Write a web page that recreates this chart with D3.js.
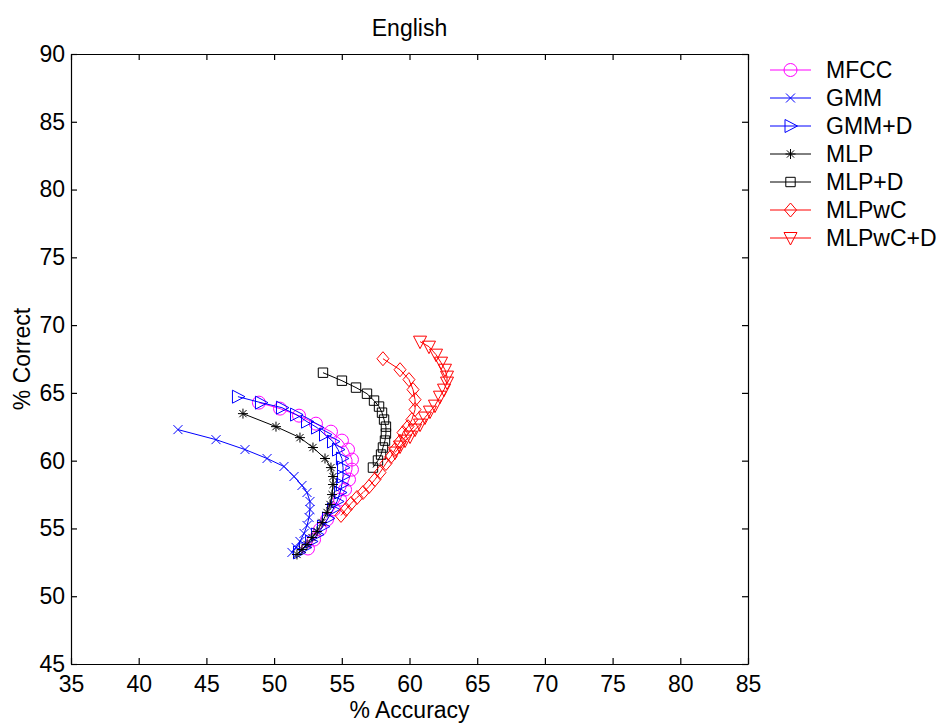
<!DOCTYPE html>
<html>
<head>
<meta charset="utf-8">
<script src="https://cdn.jsdelivr.net/npm/d3@7"></script>
<style>
  body { margin: 0; background: #fff; }
  svg { font-family: "Liberation Sans", Arial, sans-serif; }
</style>
</head>
<body>
<svg id="chart"></svg>
<script>
// Series: [accuracy %, correct %]
const mfcc = [[48.88,64.28],[50.44,63.84],[51.84,63.32],[53.09,62.73],[54.20,62.14],[55.01,61.48],[55.46,60.82],[55.75,60.08],[55.75,59.34],[55.53,58.61],[55.24,57.87],[54.87,57.13],[54.42,56.40],[53.91,55.66],[53.39,54.92],[52.95,54.18],[52.50,53.52]]
const gmm = [[42.90,62.29],[45.71,61.55],[47.85,60.82],[49.48,60.16],[50.73,59.57],[51.47,58.83],[52.06,58.17],[52.43,57.65],[52.65,56.99],[52.65,56.40],[52.58,55.81],[52.43,55.22],[52.21,54.63],[51.91,54.04],[51.62,53.60],[51.32,53.23]]
const gmmD = [[47.33,64.72],[49.03,64.28],[50.58,63.91],[51.62,63.40],[52.43,62.88],[53.17,62.44],[53.76,61.92],[54.35,61.41],[54.72,60.82],[55.01,60.16],[55.09,59.49],[55.09,58.83],[55.01,58.24],[54.87,57.65],[54.65,56.99],[54.35,56.40],[53.98,55.74],[53.61,55.14],[53.17,54.55],[52.73,54.04],[52.28,53.60],[51.84,53.23]]
const mlp = [[47.70,63.47],[50.14,62.51],[51.91,61.70],[52.87,60.97],[53.76,60.16],[54.20,59.49],[54.35,58.83],[54.35,58.24],[54.28,57.50],[54.13,56.77],[53.91,56.18],[53.54,55.44],[53.17,54.78],[52.80,54.33],[52.43,53.82],[52.06,53.45],[51.69,53.08]]
const mlpD = [[53.61,66.49],[55.01,65.90],[56.05,65.39],[56.86,64.94],[57.38,64.43],[57.75,63.99],[57.97,63.54],[58.12,63.03],[58.26,62.51],[58.26,62.00],[58.19,61.48],[58.04,60.97],[57.90,60.45],[57.67,60.01],[57.30,59.49]]
const mlpwc = [[58.04,67.52],[59.30,66.71],[59.96,65.98],[60.26,65.24],[60.41,64.50],[60.41,63.77],[60.18,63.03],[59.89,62.51],[59.52,62.07],[59.30,61.41],[58.93,60.82],[58.63,60.30],[58.26,59.79],[57.82,59.12],[57.45,58.61],[57.01,58.09],[56.57,57.65],[56.12,57.28],[55.68,56.84],[55.31,56.40],[54.94,55.96]]
const mlpwcD = [[60.78,68.78],[61.44,68.41],[61.96,67.82],[62.33,67.23],[62.62,66.71],[62.77,66.20],[62.77,65.76],[62.55,65.24],[62.25,64.72],[61.88,64.06],[61.51,63.62],[61.14,63.18],[60.78,62.66],[60.41,62.29],[60.04,61.78],[59.67,61.48],[59.30,61.04],[58.93,60.60]]

const seriesNames = ['MFCC','GMM','GMM+D','MLP','MLP+D','MLPwC','MLPwC+D']
const seriesData = [mfcc, gmm, gmmD, mlp, mlpD, mlpwc, mlpwcD]
const seriesColors = ['#ff00ff','#0000ff','#0000ff','#000000','#000000','#ff0000','#ff0000']
const seriesMarkers = ['circle','x','triRight','star','square','diamond','triDown']

const xTicks = [35,40,45,50,55,60,65,70,75,80,85]
const yTicks = [45,50,55,60,65,70,75,80,85,90]

// marker shapes, MATLAB style
const markerPath = {
    circle: 'M6.5,0A6.5,6.5,0,1,1,-6.5,0A6.5,6.5,0,1,1,6.5,0Z',
    x: 'M-4.5,-4.5L4.5,4.5M-4.5,4.5L4.5,-4.5',
    triRight: 'M-5.5,-6.5L7,0L-5.5,6.5Z',
    star: 'M-5,0L5,0M0,-5L0,5M-3.6,-3.6L3.6,3.6M-3.6,3.6L3.6,-3.6',
    square: 'M-4.7,-4.7L4.7,-4.7L4.7,4.7L-4.7,4.7Z',
    diamond: 'M0,-7L6,0L0,7L-6,0Z',
    triDown: 'M-6.5,-5.5L6.5,-5.5L0,7Z'
}

const W = 943, H = 723
const margin = {left: 71, top: 54, right: 195, bottom: 59}
const fontSize = '23px'

const svg = d3.select('#chart')
    .attr('width', W)
    .attr('height', H)

const x = d3.scaleLinear().domain([35,85]).range([margin.left, W - margin.right])
const y = d3.scaleLinear().domain([45,90]).range([H - margin.bottom, margin.top])

// axes (ticks point inward, on all four sides)
const gx = svg.append('g')
    .attr('transform', `translate(0,${H - margin.bottom})`)
    .call(d3.axisBottom(x).tickValues(xTicks).tickSize(-6).tickSizeOuter(0).tickPadding(12))
const gxTop = svg.append('g')
    .attr('transform', `translate(0,${margin.top})`)
    .call(d3.axisTop(x).tickValues(xTicks).tickSize(-6).tickSizeOuter(0).tickFormat(''))
const gy = svg.append('g')
    .attr('transform', `translate(${margin.left},0)`)
    .call(d3.axisLeft(y).tickValues(yTicks).tickSize(-6).tickSizeOuter(0).tickPadding(6))
const gyRight = svg.append('g')
    .attr('transform', `translate(${W - margin.right},0)`)
    .call(d3.axisRight(y).tickValues(yTicks).tickSize(-6).tickSizeOuter(0).tickFormat(''))

svg.selectAll('.domain, .tick line').attr('stroke', '#000').attr('stroke-width', 1.2)
svg.selectAll('.tick text')
    .attr('fill', '#000')
    .style('font-size', fontSize)
    .style('font-family', '"Liberation Sans", Arial, sans-serif')

// labels
svg.append('text')
    .attr('x', (margin.left + W - margin.right) / 2)
    .attr('y', 36)
    .attr('text-anchor', 'middle')
    .style('font-size', fontSize)
    .text('English')

svg.append('text')
    .attr('x', (margin.left + W - margin.right) / 2)
    .attr('y', 718)
    .attr('text-anchor', 'middle')
    .style('font-size', fontSize)
    .text('% Accuracy')

svg.append('text')
    .attr('transform', `translate(30,${(margin.top + H - margin.bottom) / 2}) rotate(-90)`)
    .attr('text-anchor', 'middle')
    .style('font-size', fontSize)
    .text('% Correct')

// lines and markers
const line = d3.line().x(d => x(d[0])).y(d => y(d[1]))

const plot = svg.append('g')
seriesData.forEach((data, i) => {
    const g = plot.append('g')
    g.append('path')
        .attr('d', line(data))
        .attr('fill', 'none')
        .attr('stroke', seriesColors[i])
        .attr('stroke-width', 1)
    g.selectAll('path.mk')
        .data(data)
        .join('path')
        .attr('class', 'mk')
        .attr('d', markerPath[seriesMarkers[i]])
        .attr('transform', d => `translate(${x(d[0])},${y(d[1])})`)
        .attr('fill', 'none')
        .attr('stroke', seriesColors[i])
        .attr('stroke-width', 1)
})

// legend
const legend = svg.append('g')
const legendRow = legend.selectAll('g')
    .data(seriesNames)
    .join('g')
    .attr('transform', (d, i) => `translate(770,${70 + i * 28})`)
legendRow.append('line')
    .attr('x1', 0).attr('x2', 41)
    .attr('stroke', (d, i) => seriesColors[i])
    .attr('stroke-width', 1)
legendRow.append('path')
    .attr('d', (d, i) => markerPath[seriesMarkers[i]])
    .attr('transform', 'translate(20.5,0)')
    .attr('fill', 'none')
    .attr('stroke', (d, i) => seriesColors[i])
legendRow.append('text')
    .attr('x', 56)
    .attr('dy', '0.35em')
    .style('font-size', fontSize)
    .text(d => d)
</script>
</body>
</html>
